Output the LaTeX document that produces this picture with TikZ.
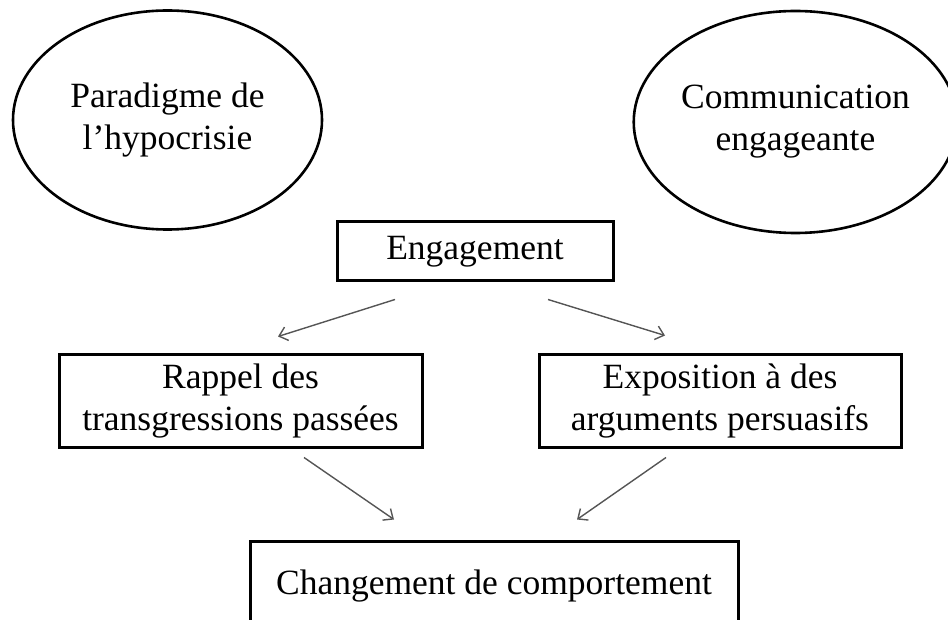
\documentclass[tikz,border=0pt]{standalone}
\usepackage{fontspec}
\setmainfont{Liberation Serif}
\usetikzlibrary{shapes.geometric}
\usetikzlibrary{arrows.meta}
\definecolor{fleche}{RGB}{85,85,85}

\begin{document}
\begin{tikzpicture}[x=1pt,y=-1pt,
  texte/.style={font=\fontsize{35.5}{42}\selectfont, align=center, inner sep=0pt},
  bulle/.style={texte, draw, ellipse, line width=2.6pt},
  boite/.style={texte, draw, rectangle, line width=3pt},
  lien/.style={fleche, line width=1.4pt, -{Straight Barb[length=8pt,width=14pt]}}]
\useasboundingbox (0,0) rectangle (948,620);
\clip (0,0) rectangle (948,620);

\node [bulle, minimum width=309pt, minimum height=219pt] (hypo) at (167.5,120) {Paradigme de\\l'hypocrisie};
\node [bulle, minimum width=299pt, minimum height=222pt] (comm) at (795.5,122) {Communication\\engageante};

\node [boite, minimum width=276pt, minimum height=59pt] (eng) at (475,251.5) {Engagement};
\node [boite, minimum width=363pt, minimum height=92pt] (rap) at (240.5,401) {Rappel des\\transgressions passées};
\node [boite, minimum width=362pt, minimum height=92pt] (expo) at (720,401) {Exposition à des\\arguments persuasifs};
\node [boite, minimum width=488pt, minimum height=90pt] (chg) at (494,586) {Changement de comportement};

\draw [lien] ([xshift=-80pt,yshift=-17pt]eng.south) -- ([xshift=37.5pt,yshift=17pt]rap.north);
\draw [lien] ([xshift=73pt,yshift=-17pt]eng.south) -- ([xshift=-55pt,yshift=18pt]expo.north);
\draw [lien] ([xshift=63.5pt,yshift=-9pt]rap.south) -- ([xshift=-100pt,yshift=20pt]chg.north);
\draw [lien] ([xshift=-54pt,yshift=-9pt]expo.south) -- ([xshift=83pt,yshift=20pt]chg.north);

\end{tikzpicture}
\end{document}
